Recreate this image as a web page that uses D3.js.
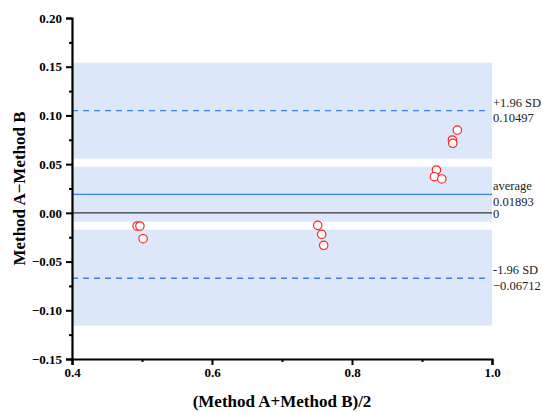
<!DOCTYPE html>
<html>
<head>
<meta charset="utf-8">
<script src="https://cdn.jsdelivr.net/npm/d3@7"></script>
<style>
body{margin:0;background:#fff;}
</style>
</head>
<body>
<div id="content"></div>
<script>
//chart constants
var svg_width=543;
var svg_height=412;
var margin={top:18, right:51, bottom:53, left:72};
var chart_width=svg_width-margin.left-margin.right;
var chart_height=svg_height-margin.top-margin.bottom;
var serif='"Liberation Serif","Times New Roman",serif';

//data
var meanAB=[0.493,0.497,0.5016,0.751,0.7567,0.7596,0.9505,0.9434,0.944,0.9206,0.9177,0.9283];
var diffAB=[-0.0135,-0.0135,-0.0265,-0.0128,-0.0220,-0.0333,0.0850,0.0748,0.0714,0.0440,0.0371,0.0348];
var refNames=['+1.96 SD','average','-1.96 SD'];
var refValues=[0.10497,0.01893,-0.06712];
var bandLow=[0.0556,-0.0091,-0.1158];
var bandHigh=[0.1541,0.0474,-0.0173];
var xTicks=[0.4,0.6,0.8,1.0];
var xMinor=[0.5,0.7,0.9];
var yTicks=[0.20,0.15,0.10,0.05,0.00,-0.05,-0.10,-0.15];
var yMinor=[0.175,0.125,0.075,0.025,-0.025,-0.075,-0.125];
var x_axis_label='(Method A+Method B)/2';
var y_axis_label='Method A\u2212Method B';

var bandColor='#dce8f9';
var lineBlue='#3a80e6';
var pointRed='#ff2020';

var svg=d3.select('#content').append('svg')
	.attr('width',svg_width).attr('height',svg_height)
	.style('font-family',serif);

var xScale=d3.scaleLinear().domain([0.4,1.0]).range([0,chart_width]);
var yScale=d3.scaleLinear().domain([-0.15,0.20]).range([chart_height,0]);

var g=svg.append('g').attr('transform','translate('+margin.left+','+margin.top+')');

//confidence bands
g.selectAll('.band')
	.data(bandLow)
	.enter().append('rect')
	.attr('class','band')
	.attr('x',xScale(0.4))
	.attr('width',xScale(1.0)-xScale(0.4))
	.attr('y',function(d,i){return yScale(bandHigh[i]);})
	.attr('height',function(d,i){return yScale(d)-yScale(bandHigh[i]);})
	.style('fill',bandColor);

//zero line
g.append('line')
	.attr('x1',xScale(0.4)).attr('x2',xScale(1.0))
	.attr('y1',yScale(0)).attr('y2',yScale(0))
	.style('stroke','#3a3a3a').style('stroke-width',1.4);

//reference lines
g.selectAll('.ref')
	.data(refValues)
	.enter().append('line')
	.attr('class','ref')
	.attr('x1',xScale(0.4)).attr('x2',function(d,i){return i==1?xScale(1.0):xScale(0.99);})
	.attr('y1',function(d){return yScale(d);})
	.attr('y2',function(d){return yScale(d);})
	.style('stroke',lineBlue)
	.style('stroke-width',1.3)
	.style('stroke-dasharray',function(d,i){return i==1?null:'6,5';});

//labels on the right
var lx=xScale(1.0)+1;
function refText(sel){
	sel.attr('x',lx)
		.style('font-family',serif)
		.style('font-size','12.5px')
		.style('fill','#222');
}
g.selectAll('.ref_name')
	.data(refNames)
	.enter().append('text')
	.call(refText)
	.attr('y',function(d,i){return yScale(refValues[i])-4;})
	.text(function(d){return d;});
g.selectAll('.ref_value')
	.data(refValues)
	.enter().append('text')
	.call(refText)
	.attr('y',function(d){return yScale(d)+11.5;})
	.text(function(d){return d3.format('.5f')(d);});
g.append('text')
	.call(refText)
	.attr('y',yScale(0)+5)
	.text('0');

//points
g.selectAll('.pt')
	.data(meanAB)
	.enter().append('circle')
	.attr('class','pt')
	.attr('cx',function(d){return xScale(d);})
	.attr('cy',function(d,i){return yScale(diffAB[i]);})
	.attr('r',4.2)
	.style('fill','#fff')
	.style('stroke',pointRed)
	.style('stroke-width',1.2);

//axes styling helper
function styleAxis(a){
	a.attr('font-family',serif).attr('font-size',13).attr('font-weight','bold');
	a.selectAll('text').style('fill','#000');
	a.select('.domain').style('stroke','#000').style('stroke-width',2.2);
	a.selectAll('.tick line').style('stroke','#000').style('stroke-width',2);
}

var xAxis=g.append('g')
	.attr('transform','translate(0,'+chart_height+')')
	.call(d3.axisBottom(xScale).tickValues(xTicks).tickFormat(d3.format('.1f')).tickSizeOuter(0).tickSize(6).tickPadding(3))
	.call(styleAxis);
g.append('g')
	.attr('transform','translate(0,'+chart_height+')')
	.call(d3.axisBottom(xScale).tickValues(xMinor).tickFormat('').tickSizeOuter(0).tickSize(3))
	.call(styleAxis)
	.call(function(a){a.select('.domain').remove();});

var yAxis=g.append('g')
	.call(d3.axisLeft(yScale).tickValues(yTicks).tickFormat(d3.format('.2f')).tickSizeOuter(0).tickSize(6).tickPadding(4))
	.call(styleAxis);
g.append('g')
	.call(d3.axisLeft(yScale).tickValues(yMinor).tickFormat('').tickSizeOuter(0).tickSize(3))
	.call(styleAxis)
	.call(function(a){a.select('.domain').remove();});

//axis titles
svg.append('text')
	.attr('x',margin.left+chart_width/2)
	.attr('y',407)
	.attr('text-anchor','middle')
	.style('font-family',serif)
	.style('font-weight','bold').style('font-size','17px')
	.text(x_axis_label);
svg.append('text')
	.attr('transform','translate(25,'+(margin.top+chart_height/2)+') rotate(-90)')
	.attr('text-anchor','middle')
	.style('font-family',serif)
	.style('font-weight','bold').style('font-size','17px')
	.text(y_axis_label);
</script>
</body>
</html>
